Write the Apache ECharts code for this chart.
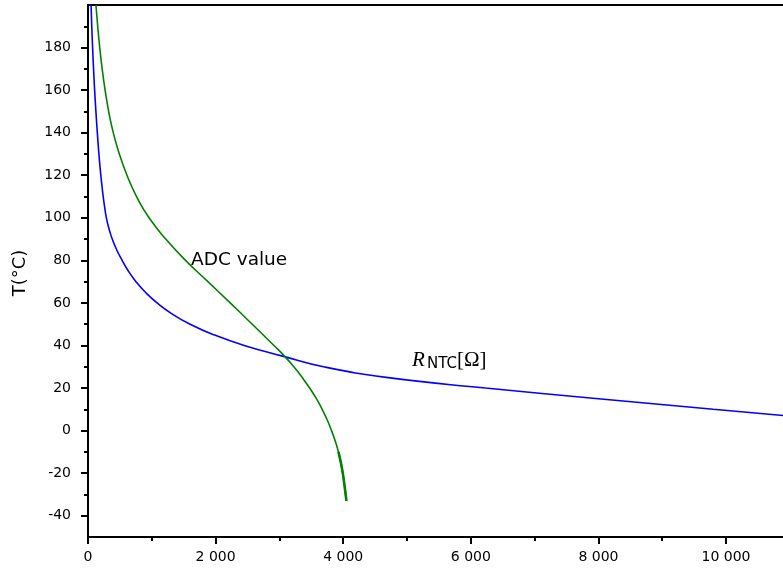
<!DOCTYPE html>
<html><head><meta charset="utf-8">
<script src="https://cdn.jsdelivr.net/npm/echarts@6/dist/echarts.min.js"></script>
<style>html,body{margin:0;padding:0;background:#fff}#c{width:783px;height:572px}</style>
</head><body><div id="c"></div>
<script>
// ADC value curve (x = ADC counts, y = temperature °C)
const adcTemp  = [200, 190, 180, 170, 160, 150, 140, 130, 120, 110, 100, 90, 80, 70, 60, 50, 40, 35, 30, 25, 20, 15, 10, 5, 0, -5, -10, -15, -20, -25, -30, -33];
const adcValue = [124, 152, 184, 222, 268, 324, 396, 491, 611, 761, 957, 1219, 1529, 1879, 2229, 2574, 2914, 3079, 3226, 3357, 3474, 3580, 3671, 3750, 3817, 3876, 3925, 3963, 3993, 4017, 4038, 4050];
// NTC resistance curve (x = ohms, y = temperature °C)
const ntcTemp = [200, 190, 180, 170, 160, 150, 140, 130, 125, 120, 115, 110, 105, 100, 95, 90, 85, 80, 75, 70, 65, 60, 55, 50, 45, 40, 35, 30, 25, 20, 15, 10, 5];
const ntcOhm  = [48, 59, 72, 87, 104, 124, 146, 171, 185, 201, 219, 238, 261, 288, 328, 380, 449, 535, 632, 752, 900, 1083, 1310, 1600, 1974, 2448, 3050, 3690, 4674, 6230, 8000, 9800, 11700];
// axes
const xMin = 0, xMax = 10893, yMin = -50, yMax = 200;
const xMajorTicks = [0, 2000, 4000, 6000, 8000, 10000];
const xMinorTicks = [1000, 3000, 5000, 7000, 9000];
const yMajorTicks = [-40, -20, 0, 20, 40, 60, 80, 100, 120, 140, 160, 180];
const yMinorTicks = [-30, -10, 10, 30, 50, 70, 90, 110, 130, 150, 170, 190];
const seriesNames = ['ADC value', 'R_NTC'];

function fmtThousands(v) { return String(v).replace(/\B(?=(\d{3})+(?!\d))/g, ' '); }

const FONT = 'DejaVu Sans';
const lineStyleAxis = { color: '#000', width: 2 };
function axisBase(min, max, pos) {
  return { type: 'value', min: min, max: max, position: pos, splitLine: { show: false },
    axisLine: { show: false, onZero: false }, axisTick: { show: false }, axisLabel: { show: false } };
}

const xMain = axisBase(xMin, xMax, 'bottom');
xMain.axisLine = { show: true, onZero: false, lineStyle: lineStyleAxis };
xMain.axisTick = { show: true, customValues: xMajorTicks, length: 7, lineStyle: lineStyleAxis };
xMain.axisLabel = { show: true, customValues: xMajorTicks, formatter: fmtThousands, fontFamily: FONT, fontSize: 14, color: '#000', margin: 13 };
const xMinor = axisBase(xMin, xMax, 'bottom');
xMinor.axisTick = { show: true, customValues: xMinorTicks, length: 4, lineStyle: lineStyleAxis };
const xTop = axisBase(xMin, xMax, 'top');
xTop.axisLine = { show: true, onZero: false, lineStyle: lineStyleAxis };

const yMain = axisBase(yMin, yMax, 'left');
yMain.axisLine = { show: true, onZero: false, lineStyle: lineStyleAxis };
yMain.axisTick = { show: true, customValues: yMajorTicks, length: 7, lineStyle: lineStyleAxis };
yMain.axisLabel = { show: true, customValues: yMajorTicks, fontFamily: FONT, fontSize: 14, color: '#000', margin: 17 };
const yMinor = axisBase(yMin, yMax, 'left');
yMinor.axisTick = { show: true, customValues: yMinorTicks, length: 4, lineStyle: lineStyleAxis };

const adcData = adcValue.map((v, i) => [v, adcTemp[i]]);
const ntcData = ntcOhm.map((v, i) => [v, ntcTemp[i]]);
const adcLow = adcData.filter(d => d[1] <= -10);

const chart = echarts.init(document.getElementById('c'), null, { renderer: 'canvas' });
chart.setOption({
  animation: false,
  backgroundColor: '#fff',
  grid: { left: 88, right: 0, top: 5, bottom: 35, containLabel: false },
  xAxis: [xMain, xMinor, xTop],
  yAxis: [yMain, yMinor],
  series: [
    { name: seriesNames[1], type: 'line', data: ntcData, showSymbol: false, smooth: 0.5, clip: true,
      lineStyle: { color: '#0000ff', width: 1.6 }, z: 3 },
    { name: seriesNames[0], type: 'line', data: adcData, showSymbol: false, smooth: 0.5, clip: true,
      lineStyle: { color: '#008000', width: 1.6 }, z: 4 },
    { name: seriesNames[0] + ' tail', type: 'line', data: adcLow, showSymbol: false, smooth: 0.5, clip: true,
      lineStyle: { color: '#008000', width: 2.6 }, z: 4 }
  ],
  graphic: [
    { type: 'text', x: 20, y: 273, rotation: Math.PI / 2,
      style: { text: 'T(°C)', font: '18px "DejaVu Sans"', fill: '#000', textAlign: 'center', textVerticalAlign: 'middle' } },
    { type: 'text', x: 191, y: 260,
      style: { text: 'ADC value', font: '18.5px "DejaVu Sans"', fill: '#000', textAlign: 'left', textVerticalAlign: 'middle' } },
    { type: 'text', x: 412, y: 360,
      style: { text: 'R', font: 'italic 21px "Liberation Serif"', fill: '#000', textAlign: 'left', textVerticalAlign: 'middle' } },
    { type: 'text', x: 427, y: 364,
      style: { text: 'NTC', font: '15px "DejaVu Sans"', fill: '#000', textAlign: 'left', textVerticalAlign: 'middle' } },
    { type: 'text', x: 457, y: 360,
      style: { text: '[Ω]', font: '21px "Liberation Serif"', fill: '#000', textAlign: 'left', textVerticalAlign: 'middle' } }
  ]
});
</script>
</body></html>
